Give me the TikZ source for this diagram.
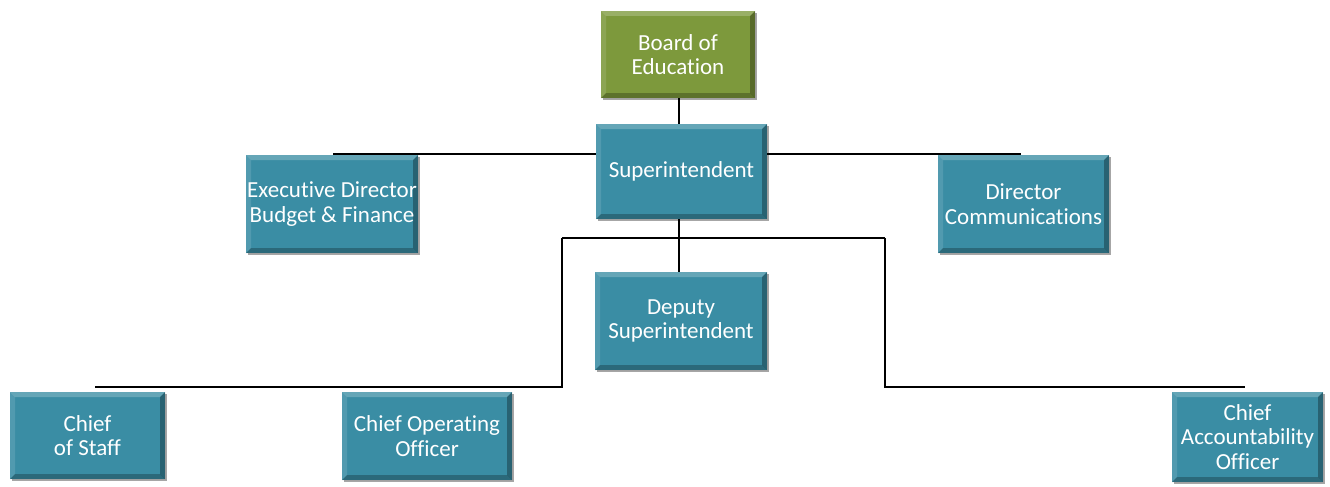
\documentclass[tikz,border=0pt]{standalone}
\usepackage{fontspec}
\setmainfont[Ligatures=NoCommon]{Carlito}
\usetikzlibrary{shadows,calc}
\definecolor{tealbox}{RGB}{58,141,164}
\definecolor{greenbox}{RGB}{125,153,60}
\tikzset{
  bevel/.style={path picture={
    \fill[white,opacity=0.22] (path picture bounding box.north west) -- (path picture bounding box.north east)
      -- ([shift={(-5pt,-5pt)}]path picture bounding box.north east) -- ([shift={(5pt,-5pt)}]path picture bounding box.north west) -- cycle;
    \fill[white,opacity=0.12] (path picture bounding box.north west) -- ([shift={(5pt,-5pt)}]path picture bounding box.north west)
      -- ([shift={(5pt,5pt)}]path picture bounding box.south west) -- (path picture bounding box.south west) -- cycle;
    \fill[black,opacity=0.25] (path picture bounding box.south west) -- (path picture bounding box.south east)
      -- ([shift={(-5pt,5pt)}]path picture bounding box.south east) -- ([shift={(5pt,5pt)}]path picture bounding box.south west) -- cycle;
    \fill[black,opacity=0.30] (path picture bounding box.north east) -- ([shift={(-5pt,-5pt)}]path picture bounding box.north east)
      -- ([shift={(-5pt,5pt)}]path picture bounding box.south east) -- (path picture bounding box.south east) -- cycle;
  }},
  orgbox/.style={rectangle, fill=tealbox, bevel, inner sep=0pt, align=center, text=white,
    font=\fontsize{23}{24.5}\selectfont,
    drop shadow={shadow xshift=2pt, shadow yshift=-2pt, opacity=0.35, fill=black}},
  topbox/.style={orgbox, fill=greenbox},
  link/.style={draw=black, line width=2.6pt}
}
\begin{document}
\begin{tikzpicture}[x=1pt,y=-1pt]
\useasboundingbox (0,0) rectangle (1330,487);
\node[topbox, minimum width=154pt, minimum height=87pt] (board) at (678,54.5) {Board of\\Education};
\node[orgbox, minimum width=171pt, minimum height=95pt] (super) at (681.5,171.5) {Superintendent};
\node[orgbox, minimum width=172pt, minimum height=98pt] (exec) at (332,204) {Executive Director\\Budget \& Finance};
\node[orgbox, minimum width=171pt, minimum height=98pt] (comm) at (1023.5,204) {Director\\Communications};
\node[orgbox, minimum width=172pt, minimum height=98pt] (deputy) at (681,321) {Deputy\\Superintendent};
\node[orgbox, minimum width=155pt, minimum height=87pt] (cos) at (87.5,435.5) {Chief\\of Staff};
\node[orgbox, minimum width=170pt, minimum height=88pt] (coo) at (427,436) {Chief Operating\\Officer};
\node[orgbox, minimum width=151pt, minimum height=90pt] (cao) at (1247.5,437) {Chief\\Accountability\\Officer};

\coordinate (hub) at (679,238);
\coordinate (lj) at (562,238);
\coordinate (rj) at (885,238);
\coordinate (lt) at (333,154);
\coordinate (rt) at (1021,154);
\coordinate (cosT) at (95,387);
\coordinate (caoT) at (1245,387);

\draw[link] (board.south -| hub) -- (super.north -| hub);
\draw[link] (lt) -- (super.west |- lt);
\draw[link] (super.east |- rt) -- (rt);
\draw[link] (super.south -| hub) -- (hub) -- (deputy.north -| hub);
\draw[link] (lj) -- (rj);
\draw[link] (lj) |- (cosT);
\draw[link] (rj) |- (caoT);
\end{tikzpicture}
\end{document}
